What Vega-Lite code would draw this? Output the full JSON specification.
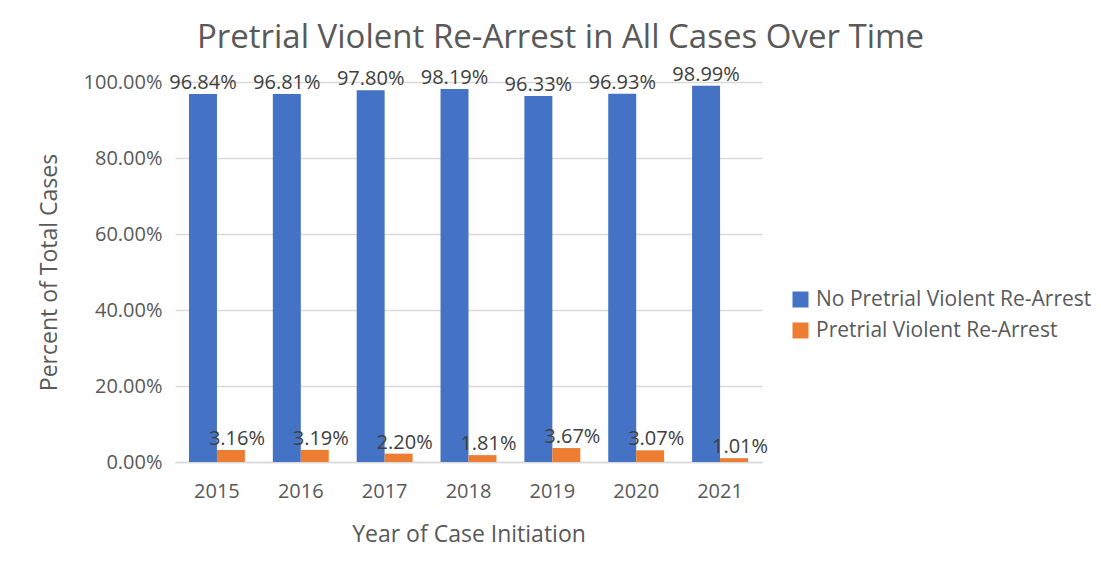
{
  "$schema": "https://vega.github.io/schema/vega-lite/v6.json",
  "width": 587,
  "height": 380,
  "autosize": "none",
  "padding": {"left": 175, "top": 82, "right": 339, "bottom": 105},
  "background": "white",
  "config": {"font": "Open Sans", "view": {"stroke": null}},
  "title": {
    "text": "Pretrial Violent Re-Arrest in All Cases Over Time",
    "fontSize": 33,
    "fontWeight": "normal",
    "color": "#595959",
    "anchor": "middle",
    "dx": 92,
    "offset": 10
  },
  "data": {
    "values": [
      {"year": "2015", "series": "No Pretrial Violent Re-Arrest", "value": 0.9684},
      {"year": "2016", "series": "No Pretrial Violent Re-Arrest", "value": 0.9681},
      {"year": "2017", "series": "No Pretrial Violent Re-Arrest", "value": 0.9780},
      {"year": "2018", "series": "No Pretrial Violent Re-Arrest", "value": 0.9819},
      {"year": "2019", "series": "No Pretrial Violent Re-Arrest", "value": 0.9633},
      {"year": "2020", "series": "No Pretrial Violent Re-Arrest", "value": 0.9693},
      {"year": "2021", "series": "No Pretrial Violent Re-Arrest", "value": 0.9899},
      {"year": "2015", "series": "Pretrial Violent Re-Arrest", "value": 0.0316},
      {"year": "2016", "series": "Pretrial Violent Re-Arrest", "value": 0.0319},
      {"year": "2017", "series": "Pretrial Violent Re-Arrest", "value": 0.0220},
      {"year": "2018", "series": "Pretrial Violent Re-Arrest", "value": 0.0181},
      {"year": "2019", "series": "Pretrial Violent Re-Arrest", "value": 0.0367},
      {"year": "2020", "series": "Pretrial Violent Re-Arrest", "value": 0.0307},
      {"year": "2021", "series": "Pretrial Violent Re-Arrest", "value": 0.0101}
    ]
  },
  "encoding": {
    "x": {
      "field": "year",
      "type": "ordinal",
      "scale": {"paddingInner": 0.333, "paddingOuter": 0.1667},
      "axis": {
        "labelAngle": 0,
        "domainColor": "#d9d9d9",
        "domainWidth": 1.5,
        "ticks": false,
        "labelFontSize": 20,
        "labelColor": "#595959",
        "labelPadding": 19,
        "title": "Year of Case Initiation",
        "titleFontSize": 23,
        "titleFontWeight": "normal",
        "titleColor": "#595959",
        "titlePadding": 22
      }
    },
    "xOffset": {
      "field": "series",
      "sort": ["No Pretrial Violent Re-Arrest", "Pretrial Violent Re-Arrest"]
    },
    "y": {
      "field": "value",
      "type": "quantitative",
      "scale": {"domain": [0, 1]},
      "axis": {
        "values": [0, 0.2, 0.4, 0.6, 0.8, 1],
        "format": ".2%",
        "gridColor": "#d9d9d9",
        "gridWidth": 1.5,
        "domain": false,
        "ticks": false,
        "labelFontSize": 20,
        "labelColor": "#595959",
        "labelPadding": 13,
        "title": "Percent of Total Cases",
        "titleFontSize": 23,
        "titleFontWeight": "normal",
        "titleColor": "#595959",
        "titlePadding": 22
      }
    },
    "color": {
      "field": "series",
      "type": "nominal",
      "sort": ["No Pretrial Violent Re-Arrest", "Pretrial Violent Re-Arrest"],
      "scale": {"range": ["#4472C4", "#ED7D31"]},
      "legend": {
        "title": null,
        "orient": "none",
        "legendX": 615,
        "legendY": 207,
        "symbolType": "square",
        "symbolSize": 256,
        "symbolStrokeWidth": 0,
        "labelFontSize": 21,
        "labelColor": "#595959",
        "labelLimit": 400,
        "rowPadding": 9,
        "labelOffset": 5
      }
    }
  },
  "layer": [
    {"mark": {"type": "bar"}},
    {
      "transform": [{"filter": "datum.series === 'No Pretrial Violent Re-Arrest'"}],
      "mark": {"type": "text", "baseline": "bottom", "dy": -1, "fontSize": 20, "color": "#404040"},
      "encoding": {
        "text": {"field": "value", "type": "quantitative", "format": ".2%"},
        "color": {"value": "#404040"}
      }
    },
    {
      "transform": [{"filter": "datum.series === 'Pretrial Violent Re-Arrest'"}],
      "mark": {"type": "text", "baseline": "bottom", "dy": -1, "dx": 6, "fontSize": 20, "color": "#404040"},
      "encoding": {
        "text": {"field": "value", "type": "quantitative", "format": ".2%"},
        "color": {"value": "#404040"}
      }
    }
  ]
}
